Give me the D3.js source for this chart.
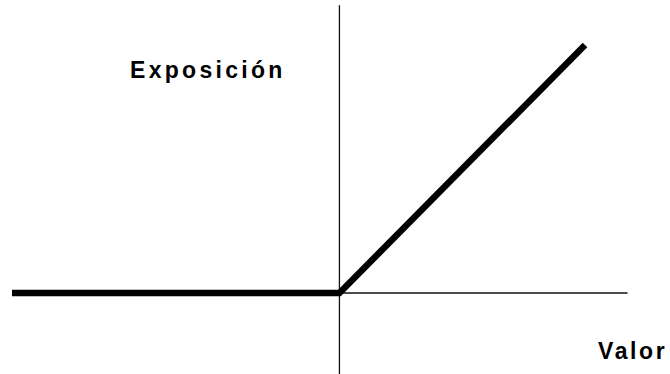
<!DOCTYPE html>
<html>
<head>
<meta charset="utf-8">
<script src="https://cdn.jsdelivr.net/npm/d3@7"></script>
<style>
  html, body { margin: 0; padding: 0; background: #fff; }
  svg { display: block; }
</style>
</head>
<body>
<div id="chart"></div>
<script>
// valores de la curva (valor -> exposición)
const valor = [-4, 0, 3];
const exposicion = [0, 0, 3];
// extensión de los ejes en unidades de datos
const ejeX = [0, 3.52];
const ejeY = [-1, 3.48];
const etiquetaY = "Exposición";
const etiquetaX = "Valor";

const width = 670;
const height = 374;

const svg = d3.select("#chart").append("svg")
    .attr("width", width)
    .attr("height", height);

const x = d3.scaleLinear().domain([-4, 3]).range([12, 585]);
const y = d3.scaleLinear().domain([0, 3]).range([293, 45]);

// ejes (líneas finas)
svg.append("line")
    .attr("x1", x(ejeX[0])).attr("x2", x(ejeX[1]))
    .attr("y1", y(0)).attr("y2", y(0))
    .attr("stroke", "#111")
    .attr("stroke-width", 1.3);

svg.append("line")
    .attr("x1", x(0)).attr("x2", x(0))
    .attr("y1", y(ejeY[1])).attr("y2", y(ejeY[0]))
    .attr("stroke", "#111")
    .attr("stroke-width", 1.3);

// curva gruesa
const puntos = valor.map((v, i) => [v, exposicion[i]]);
svg.append("path")
    .datum(puntos)
    .attr("d", d3.line().x(d => x(d[0])).y(d => y(d[1])))
    .attr("fill", "none")
    .attr("stroke", "#000")
    .attr("stroke-width", 6.5)
    .attr("stroke-linejoin", "miter");

// textos
svg.append("text")
    .attr("x", 130)
    .attr("y", 78)
    .attr("font-family", "Liberation Sans, Arial, sans-serif")
    .attr("font-weight", "bold")
    .attr("font-size", 23)
    .attr("letter-spacing", 3.3)
    .attr("fill", "#000")
    .text(etiquetaY);

svg.append("text")
    .attr("x", 598)
    .attr("y", 359)
    .attr("font-family", "Liberation Sans, Arial, sans-serif")
    .attr("font-weight", "bold")
    .attr("font-size", 23)
    .attr("letter-spacing", 2.6)
    .attr("fill", "#000")
    .text(etiquetaX);
</script>
</body>
</html>
